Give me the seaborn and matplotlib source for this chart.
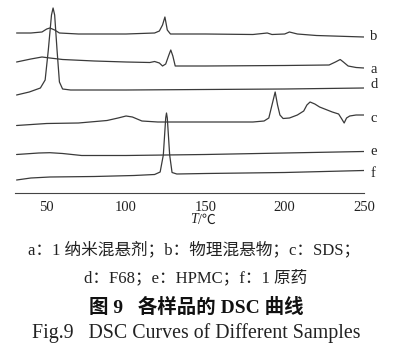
import numpy as np
import pandas as pd
import matplotlib
matplotlib.use("Agg")
import matplotlib.pyplot as plt
import seaborn as sns

sns.set_style("white")
plt.rcParams['font.family'] = ['Liberation Serif', 'Noto Sans CJK SC', 'DejaVu Sans']

# DSC traces: temperature (°C) and stacked signal (arbitrary units)
b_T = [31, 40, 47, 50, 52, 55, 58, 70, 100, 118, 121, 123, 124.5, 126, 128, 150, 180, 186, 189, 192, 200, 203, 208, 220, 250]
b_v = [162, 162, 163, 166, 167, 165, 162, 161, 161, 162, 164, 170, 178, 165, 161, 161, 160.5, 161.5, 162, 160.5, 161, 163, 161, 159.5, 158]

a_T = [31, 40, 47, 52, 60, 80, 100, 115, 118, 121, 123, 125, 127, 128.2, 129.5, 131, 135, 150, 200, 228, 232, 235, 237, 240, 245, 250]
a_v = [133, 136, 138, 137, 135.5, 134, 133, 132.5, 133.5, 132, 129, 131, 140, 145, 139, 129, 129, 129, 129.5, 130, 133, 135.5, 133, 129, 127.5, 127]

d_T = [31, 39, 46, 49, 51, 53, 54, 55, 56.5, 58, 60, 65, 100, 150, 200, 250]
d_v = [100, 103, 107, 115, 145, 180, 187, 180, 145, 113, 106, 105, 105, 105.5, 106, 107]

c_T = [31, 50, 70, 88, 95, 100, 104, 110, 120, 150, 180, 187, 190, 192, 194, 195.5, 197, 199, 203, 208, 212, 214, 216, 219, 222, 230, 234, 236, 237.5, 239, 241, 245, 250]
c_v = [69.5, 71.5, 72, 74.5, 77, 79, 78, 74, 73, 73, 73, 74, 77, 90, 103, 90, 80, 76.5, 77, 80, 84, 90, 93, 91, 88, 83, 81, 76, 72, 77, 79, 80, 80]

e_T = [31, 45, 52, 60, 72, 100, 150, 200, 250]
e_v = [40.5, 42, 42.3, 41.5, 39.5, 39.5, 40.5, 42, 43.5]

f_T = [31, 40, 52, 80, 105, 118, 121.5, 123.5, 125, 125.5, 126, 127.5, 129, 132, 150, 200, 250]
f_v = [15, 17, 18, 18.5, 19.5, 20.5, 23, 40, 77, 82, 77, 40, 22.5, 21, 21.5, 22.5, 24.5]

curve_names = ['b', 'a', 'd', 'c', 'e', 'f']
label_y = [159, 126, 111, 77, 44, 22]

xticks = [50, 100, 150, 200, 250]

caption_1 = 'a：1 纳米混悬剂；b：物理混悬物；c：SDS；'
caption_2 = 'd：F68；e：HPMC；f：1 原药'
caption_3 = '图 9   各样品的 DSC 曲线'
caption_4 = 'Fig.9   DSC Curves of Different Samples'

frames = []
for name, T, v in [('b', b_T, b_v), ('a', a_T, a_v), ('d', d_T, d_v),
                   ('c', c_T, c_v), ('e', e_T, e_v), ('f', f_T, f_v)]:
    frames.append(pd.DataFrame({'T': T, 'signal': v, 'sample': name}))
df = pd.concat(frames, ignore_index=True)

fig = plt.figure(figsize=(4.01, 3.55), dpi=100)
ax = fig.add_axes([15 / 401, 1 - 193 / 355, 349 / 401, 188 / 355])

line_col = '#3a3a3a'
sns.lineplot(data=df, x='T', y='signal', units='sample', estimator=None, sort=False,
             color=line_col, linewidth=0.9, ax=ax, legend=False)

for name, y in zip(curve_names, label_y):
    ax.text(254, y, name, fontsize=10.5, color='#222222', va='center', ha='left',
            clip_on=False)

ax.set_xlim(30, 250)
ax.set_ylim(2, 190)
ax.set_xticks(xticks)
ax.set_xticklabels([str(t) for t in xticks])
ax.set_yticks([])
ax.set_ylabel('')
ax.set_xlabel('')
for side in ['top', 'left', 'right']:
    ax.spines[side].set_visible(False)
ax.spines['bottom'].set_color('#444444')
ax.spines['bottom'].set_linewidth(0.8)
ax.tick_params(axis='x', direction='in', length=3, width=0.7, color='#444444',
               labelsize=10.5, labelcolor='#222222', pad=6)
ax.patch.set_alpha(0)

# axis title T/℃ : italic T followed by upright unit
xl_x = 198 / 401
xl_y = 1 - 220 / 355
fig.text(xl_x, xl_y, 'T', fontsize=10, fontstyle='italic', ha='right', va='center', color='#222222')
fig.text(xl_x, xl_y, '/℃', fontsize=10, ha='left', va='center', color='#222222')

fig.text(0.485, 1 - 250 / 355, caption_1, fontsize=12, ha='center', va='center', color='#222222')
fig.text(0.488, 1 - 278 / 355, caption_2, fontsize=12, ha='center', va='center', color='#222222')
fig.text(0.49, 1 - 307 / 355, caption_3, fontsize=14, fontweight='bold', ha='center', va='center', color='#111111')
fig.text(0.49, 1 - 333 / 355, caption_4, fontsize=14.3, ha='center', va='center', color='#222222')

fig.savefig('out.png', dpi=100)
